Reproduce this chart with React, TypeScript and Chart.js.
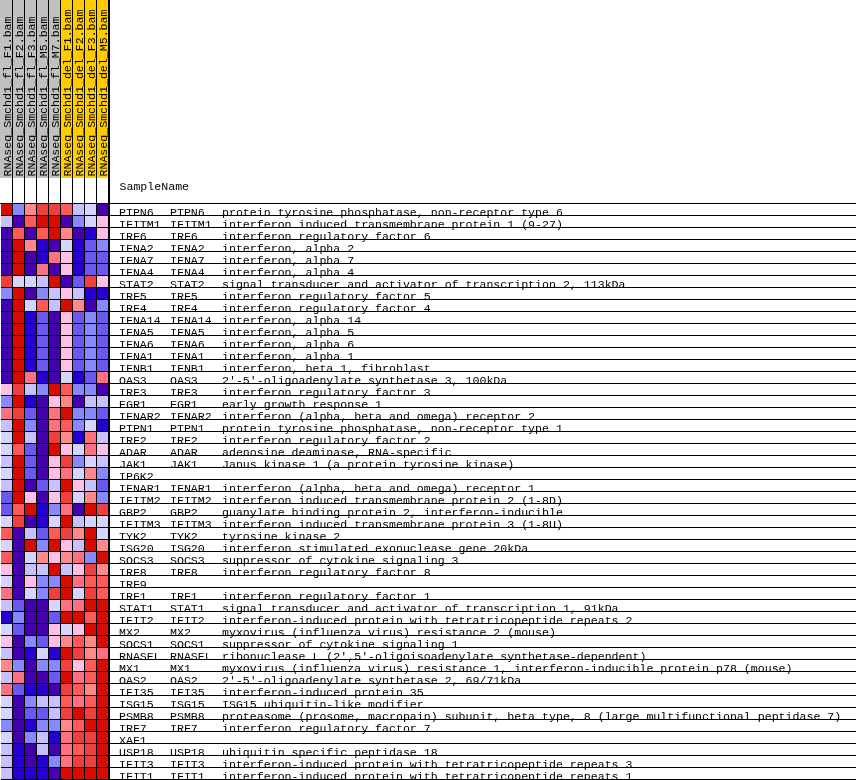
import React, { useEffect, useRef } from "react";
import { Chart, registerables } from "chart.js";
Chart.register(...registerables);

const samples = [
  "RNAseq_Smchd1_fl_F1.bam",
  "RNAseq_Smchd1_fl_F2.bam",
  "RNAseq_Smchd1_fl_F3.bam",
  "RNAseq_Smchd1_fl_M5.bam",
  "RNAseq_Smchd1_fl_M7.bam",
  "RNAseq_Smchd1_del_F1.bam",
  "RNAseq_Smchd1_del_F2.bam",
  "RNAseq_Smchd1_del_F3.bam",
  "RNAseq_Smchd1_del_M5.bam",
];
const sampleGroupColors = ["#C0C0C0", "#C0C0C0", "#C0C0C0", "#C0C0C0", "#C0C0C0", "#FFCC00", "#FFCC00", "#FFCC00", "#FFCC00"];

// GSEA blue -> red ramp (level 0 .. 11)
const palette = [
  "#4500AD", "#2700D1", "#6B58EF", "#8888FF", "#C7C1FF", "#D5D5FF",
  "#FFC0E5", "#FF8989", "#FF7080", "#FF5A5A", "#EF4040", "#D60C00",
];

const symbols = [
  "PTPN6", "IFITM1", "IRF6", "IFNA2", "IFNA7", "IFNA4", "STAT2", "IRF5", "IRF4", "IFNA14",
  "IFNA5", "IFNA6", "IFNA1", "IFNB1", "OAS3", "IRF3", "EGR1", "IFNAR2", "PTPN1", "IRF2",
  "ADAR", "JAK1", "IP6K2", "IFNAR1", "IFITM2", "GBP2", "IFITM3", "TYK2", "ISG20", "SOCS3",
  "IRF8", "IRF9", "IRF1", "STAT1", "IFIT2", "MX2", "SOCS1", "RNASEL", "MX1", "OAS2",
  "IFI35", "ISG15", "PSMB8", "IRF7", "XAF1", "USP18", "IFIT3", "IFIT1",
];
const hasSecondSymbol = symbols.map((s) => !(s === "IP6K2" || s === "IRF9" || s === "XAF1"));
const descriptions = [
  "protein tyrosine phosphatase, non-receptor type 6",
  "interferon induced transmembrane protein 1 (9-27)",
  "interferon regulatory factor 6",
  "interferon, alpha 2",
  "interferon, alpha 7",
  "interferon, alpha 4",
  "signal transducer and activator of transcription 2, 113kDa",
  "interferon regulatory factor 5",
  "interferon regulatory factor 4",
  "interferon, alpha 14",
  "interferon, alpha 5",
  "interferon, alpha 6",
  "interferon, alpha 1",
  "interferon, beta 1, fibroblast",
  "2'-5'-oligoadenylate synthetase 3, 100kDa",
  "interferon regulatory factor 3",
  "early growth response 1",
  "interferon (alpha, beta and omega) receptor 2",
  "protein tyrosine phosphatase, non-receptor type 1",
  "interferon regulatory factor 2",
  "adenosine deaminase, RNA-specific",
  "Janus kinase 1 (a protein tyrosine kinase)",
  "",
  "interferon (alpha, beta and omega) receptor 1",
  "interferon induced transmembrane protein 2 (1-8D)",
  "guanylate binding protein 2, interferon-inducible",
  "interferon induced transmembrane protein 3 (1-8U)",
  "tyrosine kinase 2",
  "interferon stimulated exonuclease gene 20kDa",
  "suppressor of cytokine signaling 3",
  "interferon regulatory factor 8",
  "",
  "interferon regulatory factor 1",
  "signal transducer and activator of transcription 1, 91kDa",
  "interferon-induced protein with tetratricopeptide repeats 2",
  "myxovirus (influenza virus) resistance 2 (mouse)",
  "suppressor of cytokine signaling 1",
  "ribonuclease L (2',5'-oligoisoadenylate synthetase-dependent)",
  "myxovirus (influenza virus) resistance 1, interferon-inducible protein p78 (mouse)",
  "2'-5'-oligoadenylate synthetase 2, 69/71kDa",
  "interferon-induced protein 35",
  "ISG15 ubiquitin-like modifier",
  "proteasome (prosome, macropain) subunit, beta type, 8 (large multifunctional peptidase 7)",
  "interferon regulatory factor 7",
  "",
  "ubiquitin specific peptidase 18",
  "interferon-induced protein with tetratricopeptide repeats 3",
  "interferon-induced protein with tetratricopeptide repeats 1",
];

// expression level (palette index) per sample, rows in the order of `symbols`
const fl_F1 = [11,4,0,0,0,0,10,3,0,0,0,0,0,0,0,6,3,8,4,5,5,4,5,4,2,2,5,9,5,9,6,5,8,4,1,5,6,4,7,4,8,5,5,3,5,4,4,4];
const fl_F2 = [3,0,9,11,11,11,5,11,11,11,11,11,11,11,11,10,11,10,11,11,9,11,11,11,11,9,10,0,0,0,0,0,0,2,3,2,0,0,3,8,2,0,0,0,0,1,1,1];
const fl_F3 = [7,9,0,7,0,0,5,0,5,1,1,1,1,1,8,4,1,2,3,4,2,2,2,0,6,11,0,4,11,5,4,6,5,0,0,0,3,1,0,0,1,3,2,1,3,0,0,1];
const fl_M5 = [10,11,9,1,1,8,4,3,9,2,2,2,2,2,1,3,0,0,0,0,0,0,0,2,0,1,1,2,3,7,4,3,3,0,0,0,2,5,3,0,1,4,2,3,4,4,1,1];
const fl_M7 = [10,11,11,0,8,0,11,4,4,0,0,0,0,0,0,11,6,8,8,10,11,6,6,4,6,3,5,9,11,6,11,3,10,5,2,6,6,1,3,2,0,4,4,3,1,0,3,0];
const del_F1 = [9,0,7,5,6,6,0,6,11,6,6,6,6,6,5,9,7,11,9,7,6,10,8,11,10,8,11,10,6,7,4,11,11,8,11,5,7,11,10,11,10,9,10,7,8,8,8,11];
const del_F2 = [4,3,0,1,1,1,2,4,7,2,2,2,2,2,1,3,0,3,3,1,5,3,5,6,5,0,4,7,4,8,6,8,5,8,11,6,9,10,6,8,9,8,11,9,10,9,10,11];
const del_F3 = [5,5,1,2,2,2,10,1,0,3,3,3,3,3,2,3,4,3,5,8,8,5,7,4,7,11,5,11,11,3,10,9,10,11,9,11,7,7,9,9,7,9,10,11,10,10,10,11];
const del_M5 = [0,6,6,3,2,2,6,1,3,2,2,2,2,2,8,0,4,2,1,4,6,4,3,2,3,10,5,5,7,11,7,9,9,11,11,11,11,8,11,11,11,11,11,11,11,11,11,11];

const columns = [fl_F1, fl_F2, fl_F3, fl_M5, fl_M7, del_F1, del_F2, del_F3, del_M5];

const MONO = '"Liberation Mono", "Courier New", monospace';

const gseaPlugin = {
  id: "gseaDecor",
  afterDraw(chart: any) {
    const ctx = chart.ctx as CanvasRenderingContext2D;
    const { right, top, bottom } = chart.chartArea;
    const xs = chart.scales.x;
    const ys = chart.scales.y;
    const W = chart.width;
    ctx.save();
    // header column backgrounds and separators
    const headerBottom = 178;
    for (let c = 0; c < samples.length; c++) {
      const x0 = c === 0 ? 0 : Math.round(xs.getPixelForValue(c));
      const x1 = Math.round(xs.getPixelForValue(c + 1));
      ctx.fillStyle = sampleGroupColors[c];
      ctx.fillRect(x0, 0, x1 - x0, headerBottom);
      ctx.fillStyle = "#000";
      ctx.fillRect(x1 - 1, 0, 1, top - 1);
    }
    // rotated sample names
    ctx.font = `11.6px ${MONO}`;
    ctx.fillStyle = "#000";
    ctx.textAlign = "left";
    ctx.textBaseline = "alphabetic";
    for (let c = 0; c < samples.length; c++) {
      const x0 = Math.round(xs.getPixelForValue(c));
      ctx.save();
      ctx.translate(x0 + 9.5, 176.5);
      ctx.rotate(-Math.PI / 2);
      ctx.fillText(samples[c], 0, 0);
      ctx.restore();
    }
    // right edge line of the heatmap
    ctx.fillStyle = "#000";
    ctx.fillRect(right, 0, 1, bottom);
    // top line
    ctx.fillRect(0, top - 1, W, 1);
    // SampleName
    ctx.fillText("SampleName", right + 10.5, 189.5);
    // row lines and labels
    const rowH = (bottom - top) / symbols.length;
    for (let i = 0; i < symbols.length; i++) {
      const yb = ys.getPixelForValue(i) + rowH / 2;
      ctx.fillStyle = "#000";
      ctx.fillText(symbols[i], right + 10, yb - 0.5);
      if (hasSecondSymbol[i]) ctx.fillText(symbols[i], right + 61, yb - 0.5);
      if (descriptions[i]) ctx.fillText(descriptions[i], right + 113, yb - 0.5);
      ctx.fillRect(right, Math.round(yb) - 1, W - right, 1);
    }
    ctx.restore();
  },
};

export default function App() {
  const ref = useRef<HTMLCanvasElement | null>(null);
  useEffect(() => {
    if (!ref.current) return;
    const chart = new Chart(ref.current, {
      type: "bar",
      data: {
        labels: symbols,
        datasets: columns.map((levels, c) => ({
          label: samples[c],
          data: levels.map(() => [c, c + 1]),
          backgroundColor: levels.map((l) => palette[l]),
          borderColor: "#000000",
          borderWidth: { top: 0, left: 0, right: 1, bottom: 1 },
          borderSkipped: false,
          inflateAmount: 0,
          grouped: false,
          barPercentage: 1,
          categoryPercentage: 1,
        })) as any,
      },
      options: {
        indexAxis: "y",
        responsive: false,
        animation: false,
        devicePixelRatio: 1,
        layout: { padding: { left: 1, right: 747, top: 204, bottom: 0 } },
        scales: {
          x: { type: "linear", min: 0, max: 9, display: false },
          y: { type: "category", display: false },
        },
        plugins: { legend: { display: false }, tooltip: { enabled: false } },
      } as any,
      plugins: [gseaPlugin],
    });
    return () => chart.destroy();
  }, []);
  return (
    <div style={{ position: "absolute", left: 0, top: 0, width: 856, height: 780, background: "#fff" }}>
      <canvas ref={ref} width={856} height={780} style={{ display: "block" }} />
    </div>
  );
}
